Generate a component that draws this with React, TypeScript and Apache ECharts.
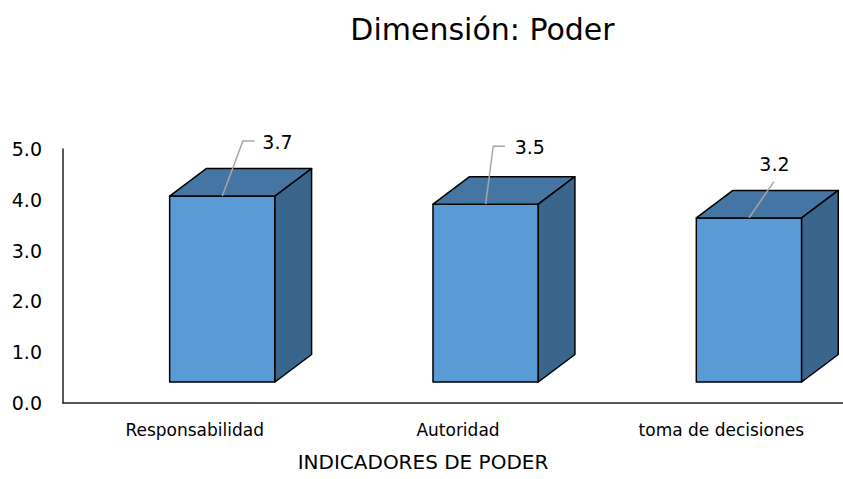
import React, { useEffect, useRef } from "react";
import * as echarts from "echarts";

const categories = ["Responsabilidad", "Autoridad", "toma de decisiones"];
const values = [3.66, 3.5, 3.23];
const yMin = 0;
const yMax = 5;
const yInterval = 1;

const titleText = "Dimensión: Poder";
const axisTitle = "INDICADORES DE PODER";

// leader line geometry relative to the front-top centre of each bar (layout only)
const leaderPts: number[][][] = [
  [[0, 0], [20.6, -55], [32.3, -55]],
  [[0, 0], [7.6, -58], [19.3, -58]],
  [[0, 0], [25, -36.3]],
];
const labelPos: number[][] = [[40, -54], [29, -57], [25.5, -54]];
const labelAlign = ["left", "left", "center"];

const FONT = "DejaVu Sans";
const FRONT = "#5B9BD5";
const TOP = "#4575A3";
const SIDE = "#3A658C";

export default function App() {
  const ref = useRef<HTMLDivElement>(null);
  useEffect(() => {
    if (!ref.current) return;
    const chart = echarts.init(ref.current, undefined, { renderer: "svg" });
    const option: any = {
      animation: false,
      backgroundColor: "#ffffff",
      grid: {
        left: 63,
        top: 149,
        width: 790,
        height: 254,
        containLabel: false,
        outerBoundsMode: "none",
      },
      xAxis: {
        type: "category",
        data: categories,
        axisLine: { show: true, lineStyle: { color: "#222", width: 1.5 } },
        axisTick: { show: false },
        axisLabel: { fontFamily: FONT, fontSize: 17, color: "#000", margin: 18 },
        splitLine: { show: false },
      },
      yAxis: {
        type: "value",
        min: yMin,
        max: yMax,
        interval: yInterval,
        axisLine: { show: true, lineStyle: { color: "#222", width: 1.5 } },
        axisTick: { show: false },
        splitLine: { show: false },
        axisLabel: {
          fontFamily: FONT,
          fontSize: 19,
          color: "#000",
          margin: 21,
          formatter: (v: number) => v.toFixed(1),
        },
      },
      graphic: [
        {
          type: "text",
          x: 482.5,
          y: 29,
          style: {
            text: titleText,
            fontFamily: FONT,
            fontSize: 30,
            fill: "#000",
            align: "center",
            verticalAlign: "middle",
          },
        },
        {
          type: "text",
          x: 423,
          y: 462,
          style: {
            text: axisTitle,
            fontFamily: FONT,
            fontSize: 20,
            fill: "#000",
            align: "center",
            verticalAlign: "middle",
          },
        },
      ],
      series: [
        {
          type: "custom",
          data: values.map((v, i) => [i, v]),
          encode: { x: 0, y: 1 },
          clip: false,
          renderItem: (params: any, api: any) => {
            const idx = api.value(0);
            const v = api.value(1);
            const base = api.coord([idx, 0]);
            const topP = api.coord([idx, v]);
            const bw = api.size([1, 0])[0];
            const w = bw * 0.4;
            const left = base[0] - bw * 0.095;
            const right = left + w;
            const lift = 21;
            const yb = base[1] - lift;
            const yt = topP[1] - lift;
            const dx = bw * 0.139;
            const dy = -27.5;
            const stroke = { stroke: "#000", lineWidth: 1.5, lineJoin: "round" };
            const ax = left + w / 2;
            const ay = yt;
            const pts = leaderPts[idx].map((p) => [ax + p[0], ay + p[1]]);
            const lp = labelPos[idx];
            return {
              type: "group",
              children: [
                {
                  type: "rect",
                  shape: { x: left, y: yt, width: w, height: yb - yt },
                  style: { fill: FRONT, ...stroke },
                },
                {
                  type: "polygon",
                  shape: {
                    points: [
                      [left, yt],
                      [right, yt],
                      [right + dx, yt + dy],
                      [left + dx, yt + dy],
                    ],
                  },
                  style: { fill: TOP, ...stroke },
                },
                {
                  type: "polygon",
                  shape: {
                    points: [
                      [right, yt],
                      [right, yb],
                      [right + dx, yb + dy],
                      [right + dx, yt + dy],
                    ],
                  },
                  style: { fill: SIDE, ...stroke },
                },
                {
                  type: "polyline",
                  shape: { points: pts },
                  style: { stroke: "#A6A6A6", lineWidth: 1.5, fill: null },
                },
                {
                  type: "text",
                  x: ax + lp[0],
                  y: ay + lp[1],
                  style: {
                    text: v.toFixed(1),
                    fontFamily: FONT,
                    fontSize: 19,
                    fill: "#000",
                    align: labelAlign[idx],
                    verticalAlign: "middle",
                  },
                },
              ],
            };
          },
        },
      ],
    };
    chart.setOption(option);
    return () => chart.dispose();
  }, []);
  return (
    <div
      ref={ref}
      style={{ position: "fixed", left: 0, top: 0, width: 843, height: 479 }}
    />
  );
}
